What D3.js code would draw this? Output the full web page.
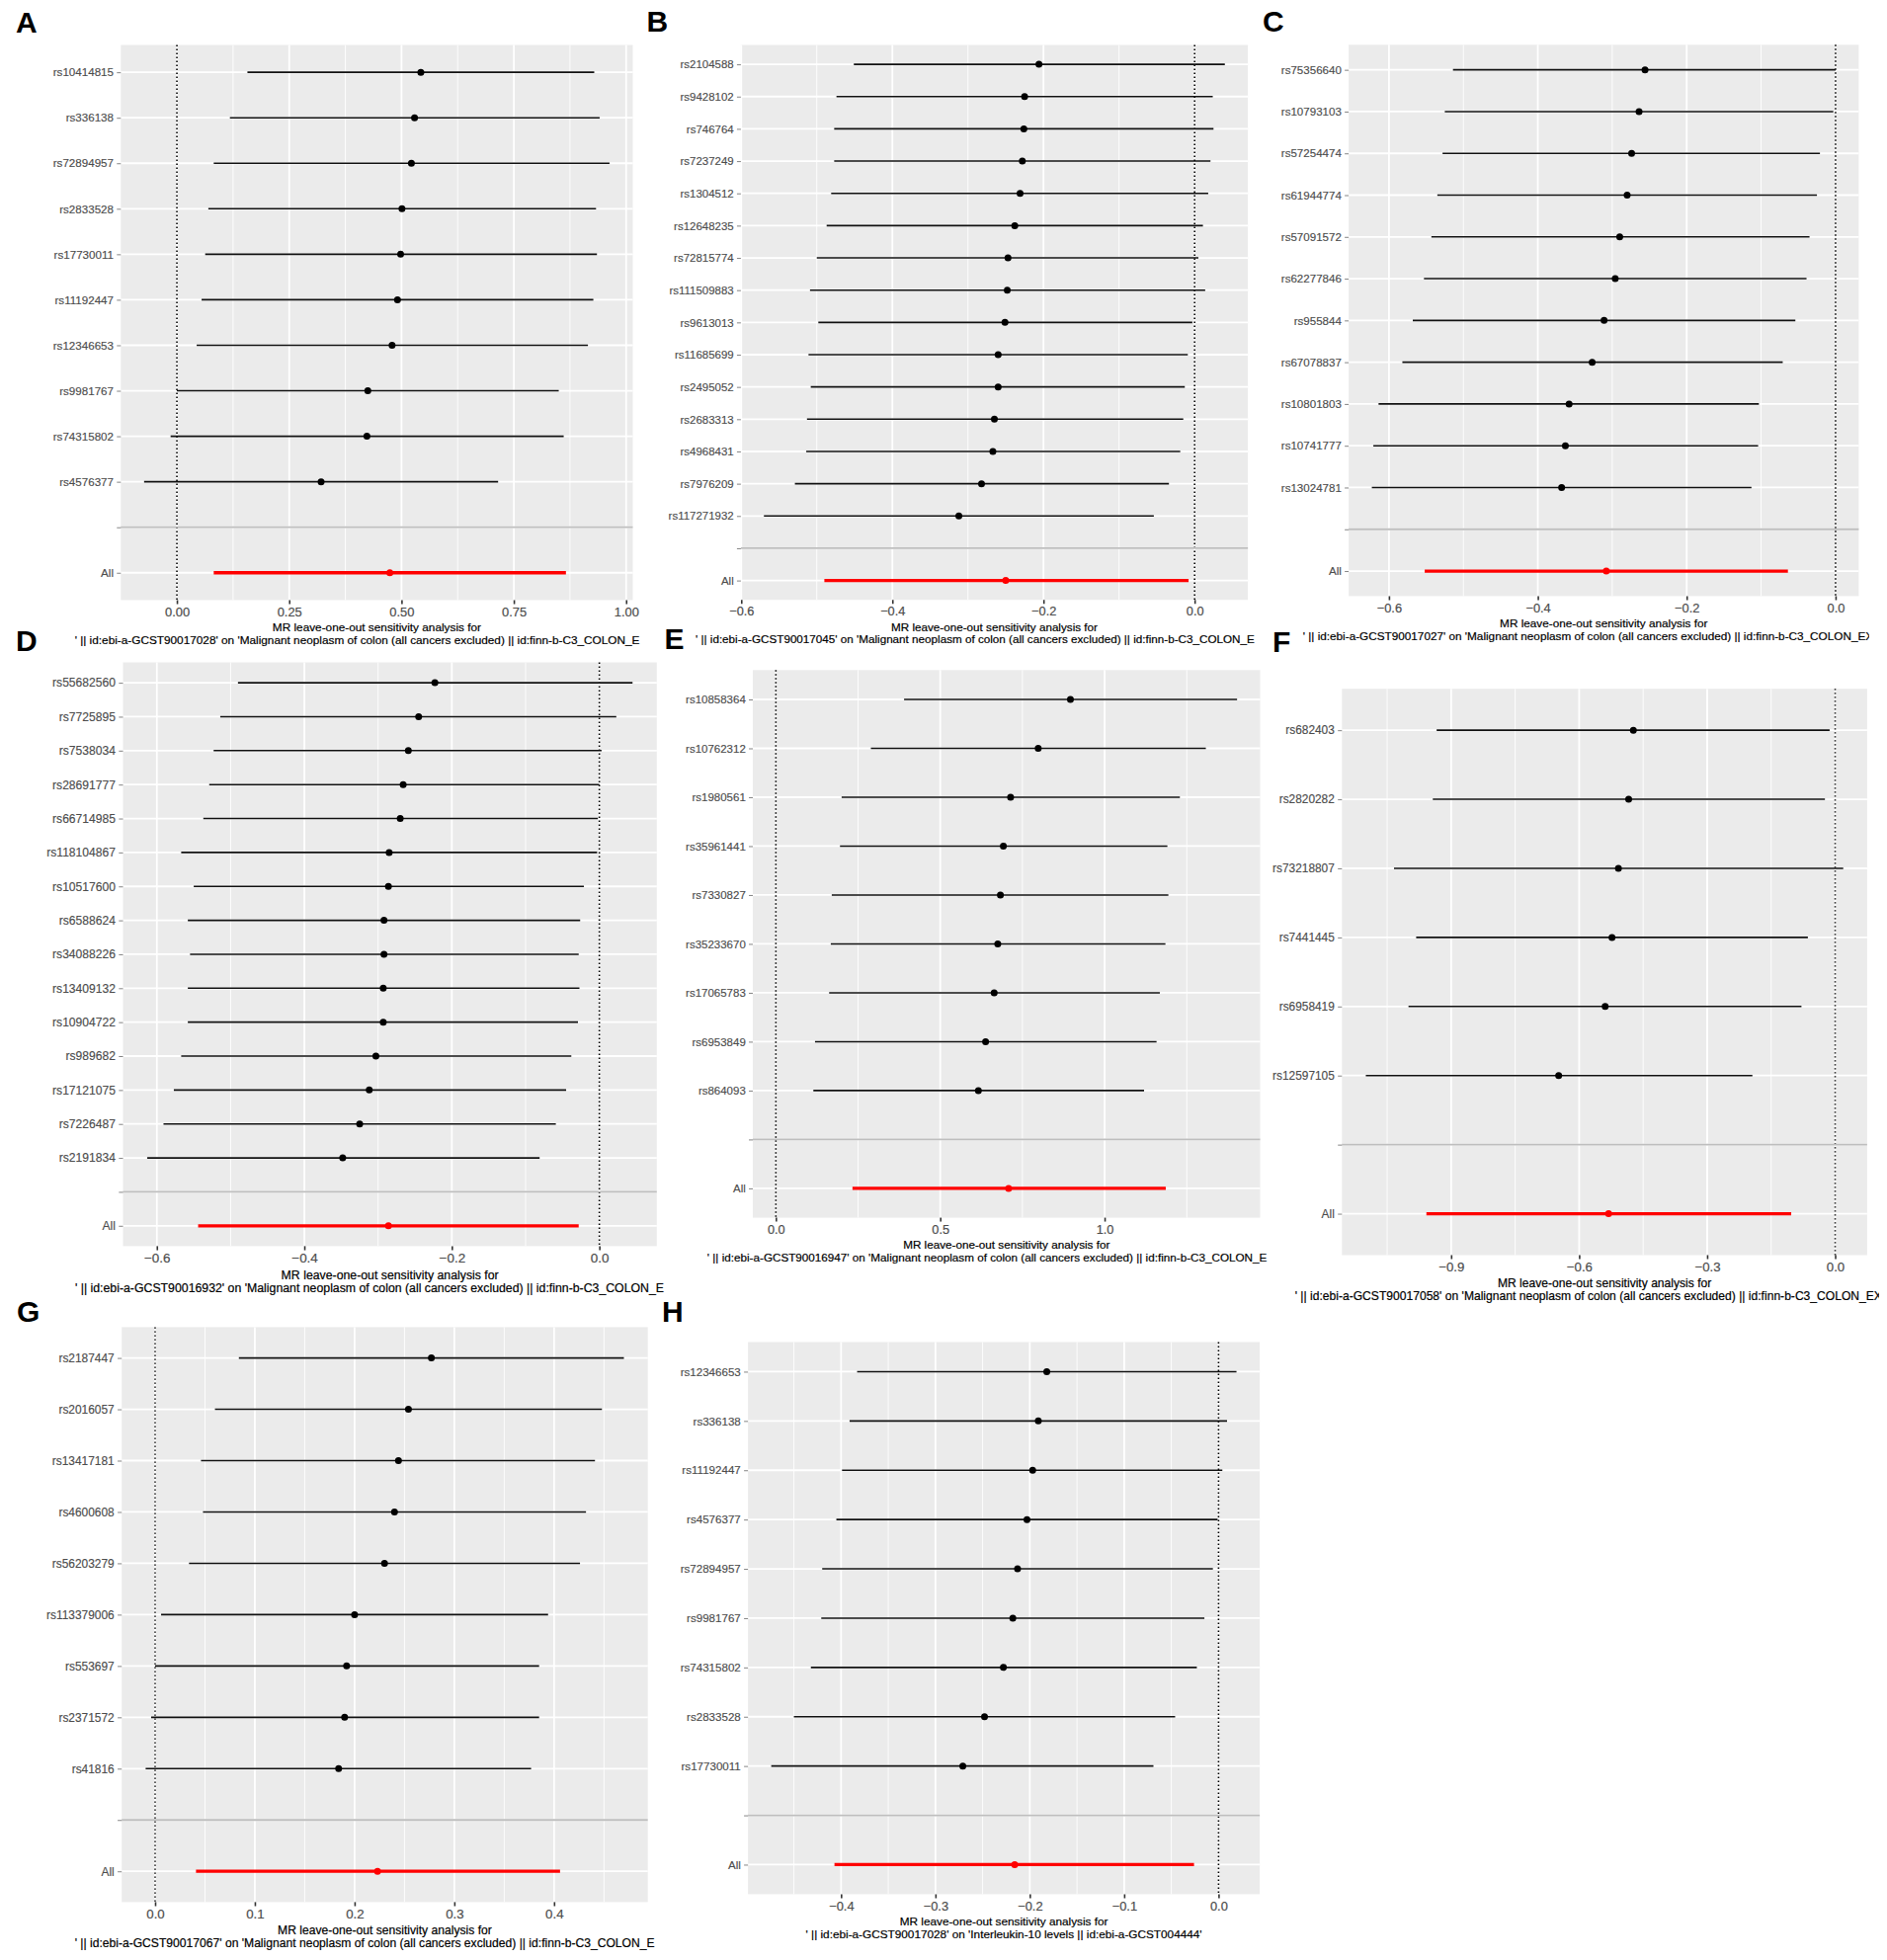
<!DOCTYPE html>
<html>
<head>
<meta charset="utf-8">
<script src="https://cdn.jsdelivr.net/npm/d3@7"></script>
<style>
  body { margin: 0; background: #fff; }
  svg { display: block; font-family: "Liberation Sans", Arial, sans-serif; }
</style>
</head>
<body>
<svg id="fig" width="1910" height="1984"></svg>
<script>
// ---- data (top row first) ----
const titleLine1 = "MR leave-one-out sensitivity analysis for";

// Panel A
const snpsA = ["rs10414815", "rs336138", "rs72894957", "rs2833528", "rs17730011", "rs11192447", "rs12346653", "rs9981767", "rs74315802", "rs4576377"];
const estA = [0.543, 0.529, 0.522, 0.501, 0.498, 0.491, 0.479, 0.425, 0.423, 0.321];
const loA = [0.157, 0.118, 0.082, 0.070, 0.063, 0.055, 0.044, 0.000, -0.014, -0.073];
const hiA = [0.929, 0.941, 0.963, 0.933, 0.935, 0.927, 0.915, 0.850, 0.861, 0.715];
const allA = [0.082, 0.474, 0.866];   // lo, estimate, hi
const ticksA = [0, 0.25, 0.5, 0.75, 1.0];
const tickLabelsA = ["0.00", "0.25", "0.50", "0.75", "1.00"];
const titleA = "' || id:ebi-a-GCST90017028' on 'Malignant neoplasm of colon (all cancers excluded) || id:finn-b-C3_COLON_EXALLC'";

// Panel B
const snpsB = ["rs2104588", "rs9428102", "rs746764", "rs7237249", "rs1304512", "rs12648235", "rs72815774", "rs111509883", "rs9613013", "rs11685699", "rs2495052", "rs2683313", "rs4968431", "rs7976209", "rs117271932"];
const estB = [-0.206, -0.225, -0.226, -0.228, -0.231, -0.238, -0.247, -0.248, -0.251, -0.260, -0.260, -0.265, -0.267, -0.282, -0.312];
const loB = [-0.451, -0.474, -0.477, -0.477, -0.481, -0.487, -0.500, -0.509, -0.498, -0.511, -0.508, -0.513, -0.514, -0.529, -0.570];
const hiB = [0.040, 0.024, 0.025, 0.021, 0.018, 0.011, 0.005, 0.014, -0.003, -0.009, -0.013, -0.015, -0.019, -0.034, -0.054];
const allB = [-0.490, -0.250, -0.008];
const ticksB = [-0.6, -0.4, -0.2, 0.0];
const tickLabelsB = ["\u22120.6", "\u22120.4", "\u22120.2", "0.0"];
const titleB = "' || id:ebi-a-GCST90017045' on 'Malignant neoplasm of colon (all cancers excluded) || id:finn-b-C3_COLON_EXALLC'";

// Panel C
const snpsC = ["rs75356640", "rs10793103", "rs57254474", "rs61944774", "rs57091572", "rs62277846", "rs955844", "rs67078837", "rs10801803", "rs10741777", "rs13024781"];
const estC = [-0.256, -0.264, -0.274, -0.280, -0.290, -0.296, -0.311, -0.327, -0.358, -0.363, -0.368];
const loC = [-0.514, -0.525, -0.528, -0.535, -0.543, -0.553, -0.568, -0.582, -0.614, -0.621, -0.623];
const hiC = [0.000, -0.003, -0.021, -0.025, -0.035, -0.039, -0.054, -0.071, -0.103, -0.104, -0.113];
const allC = [-0.552, -0.308, -0.064];
const ticksC = [-0.6, -0.4, -0.2, 0.0];
const tickLabelsC = ["\u22120.6", "\u22120.4", "\u22120.2", "0.0"];
const titleC = "' || id:ebi-a-GCST90017027' on 'Malignant neoplasm of colon (all cancers excluded) || id:finn-b-C3_COLON_EXALLC'";

// Panel D
const snpsD = ["rs55682560", "rs7725895", "rs7538034", "rs28691777", "rs66714985", "rs118104867", "rs10517600", "rs6588624", "rs34088226", "rs13409132", "rs10904722", "rs989682", "rs17121075", "rs7226487", "rs2191834"];
const estD = [-0.223, -0.245, -0.259, -0.266, -0.270, -0.285, -0.286, -0.292, -0.292, -0.293, -0.293, -0.303, -0.312, -0.325, -0.348];
const loD = [-0.490, -0.514, -0.523, -0.529, -0.537, -0.567, -0.550, -0.558, -0.555, -0.558, -0.558, -0.567, -0.577, -0.591, -0.613];
const hiD = [0.045, 0.023, 0.003, 0.000, -0.002, -0.003, -0.021, -0.026, -0.028, -0.027, -0.029, -0.038, -0.045, -0.059, -0.081];
const allD = [-0.544, -0.286, -0.028];
const ticksD = [-0.6, -0.4, -0.2, 0.0];
const tickLabelsD = ["\u22120.6", "\u22120.4", "\u22120.2", "0.0"];
const titleD = "' || id:ebi-a-GCST90016932' on 'Malignant neoplasm of colon (all cancers excluded) || id:finn-b-C3_COLON_EXALLC'";

// Panel E
const snpsE = ["rs10858364", "rs10762312", "rs1980561", "rs35961441", "rs7330827", "rs35233670", "rs17065783", "rs6953849", "rs864093"];
const estE = [0.896, 0.798, 0.714, 0.692, 0.683, 0.675, 0.664, 0.638, 0.616];
const loE = [0.390, 0.289, 0.200, 0.195, 0.170, 0.167, 0.162, 0.119, 0.114];
const hiE = [1.403, 1.308, 1.229, 1.191, 1.194, 1.185, 1.168, 1.158, 1.120];
const allE = [0.233, 0.708, 1.186];
const ticksE = [0, 0.5, 1.0];
const tickLabelsE = ["0.0", "0.5", "1.0"];
const titleE = "' || id:ebi-a-GCST90016947' on 'Malignant neoplasm of colon (all cancers excluded) || id:finn-b-C3_COLON_EXALLC'";

// Panel F
const snpsF = ["rs682403", "rs2820282", "rs73218807", "rs7441445", "rs6958419", "rs12597105"];
const estF = [-0.473, -0.484, -0.508, -0.523, -0.539, -0.648];
const loF = [-0.934, -0.943, -1.034, -0.982, -1.000, -1.100];
const hiF = [-0.013, -0.024, 0.019, -0.064, -0.079, -0.194];
const allF = [-0.958, -0.531, -0.103];
const ticksF = [-0.9, -0.6, -0.3, 0.0];
const tickLabelsF = ["\u22120.9", "\u22120.6", "\u22120.3", "0.0"];
const titleF = "' || id:ebi-a-GCST90017058' on 'Malignant neoplasm of colon (all cancers excluded) || id:finn-b-C3_COLON_EXALLC'";

// Panel G
const snpsG = ["rs2187447", "rs2016057", "rs13417181", "rs4600608", "rs56203279", "rs113379006", "rs553697", "rs2371572", "rs41816"];
const estG = [0.277, 0.254, 0.244, 0.240, 0.230, 0.200, 0.192, 0.190, 0.184];
const loG = [0.084, 0.060, 0.046, 0.048, 0.034, 0.006, 0.000, -0.004, -0.0095];
const hiG = [0.470, 0.448, 0.441, 0.432, 0.426, 0.394, 0.385, 0.385, 0.377];
const allG = [0.041, 0.223, 0.406];
const ticksG = [0, 0.1, 0.2, 0.3, 0.4];
const tickLabelsG = ["0.0", "0.1", "0.2", "0.3", "0.4"];
const titleG = "' || id:ebi-a-GCST90017067' on 'Malignant neoplasm of colon (all cancers excluded) || id:finn-b-C3_COLON_EXALLC'";

// Panel H
const snpsH = ["rs12346653", "rs336138", "rs11192447", "rs4576377", "rs72894957", "rs9981767", "rs74315802", "rs2833528", "rs17730011"];
const estH = [-0.182, -0.191, -0.197, -0.203, -0.213, -0.218, -0.228, -0.248, -0.271];
const loH = [-0.383, -0.391, -0.399, -0.405, -0.420, -0.421, -0.432, -0.450, -0.474];
const hiH = [0.019, 0.009, 0.004, -0.001, -0.006, -0.015, -0.023, -0.046, -0.069];
const allH = [-0.407, -0.216, -0.026];
const ticksH = [-0.4, -0.3, -0.2, -0.1, 0.0];
const tickLabelsH = ["\u22120.4", "\u22120.3", "\u22120.2", "\u22120.1", "0.0"];
const titleH = "' || id:ebi-a-GCST90017028' on 'Interleukin-10 levels || id:ebi-a-GCST004444'";

// ---- layout of the composite: panel box in page pixels, visible x range of each pasted sub-figure,
//      and where its title text gets cut ----
const layout = [
  { key: "A", left: 122.3, right: 640.5, top: 45.5, bottom: 607.4, clip: [0, 649], cut: 649 },
  { key: "B", left: 749.9, right: 1263.1, top: 45.5, bottom: 607.2, clip: [649, 1273], cut: 1273 },
  { key: "C", left: 1365.1, right: 1881.4, top: 45.3, bottom: 603.4, clip: [1273, 1892], cut: 1898 },
  { key: "D", left: 124.5, right: 664.8, top: 670.5, bottom: 1261.4, clip: [0, 674], cut: 674 },
  { key: "E", left: 762, right: 1275.5, top: 678.3, bottom: 1232.6, clip: [674, 1286], cut: 1286 },
  { key: "F", left: 1358.3, right: 1889.9, top: 697.2, bottom: 1270.5, clip: [1286, 1902], cut: 1906 },
  { key: "G", left: 123.2, right: 655.7, top: 1343.4, bottom: 1925.4, clip: [0, 666], cut: 666 },
  { key: "H", left: 757.1, right: 1275.1, top: 1358.5, bottom: 1917.4, clip: [666, 1290], cut: 1290 }
];
// panel letters: key, x, baseline
const letters = [
  ["A", 16, 32.5], ["B", 654.5, 31.5], ["C", 1278, 32],
  ["D", 16, 659], ["E", 672.5, 657], ["F", 1288, 659.5],
  ["G", 17, 1338], ["H", 670, 1337.5]
];

const panels = {
  A: [snpsA, estA, loA, hiA, allA, ticksA, tickLabelsA, titleA],
  B: [snpsB, estB, loB, hiB, allB, ticksB, tickLabelsB, titleB],
  C: [snpsC, estC, loC, hiC, allC, ticksC, tickLabelsC, titleC],
  D: [snpsD, estD, loD, hiD, allD, ticksD, tickLabelsD, titleD],
  E: [snpsE, estE, loE, hiE, allE, ticksE, tickLabelsE, titleE],
  F: [snpsF, estF, loF, hiF, allF, ticksF, tickLabelsF, titleF],
  G: [snpsG, estG, loG, hiG, allG, ticksG, tickLabelsG, titleG],
  H: [snpsH, estH, loH, hiH, allH, ticksH, tickLabelsH, titleH]
};

const svg = d3.select("#fig");
const defs = svg.append("defs");

// sizes (ggplot theme_grey at the scale of panel A; other sub-figures were pasted a bit larger/smaller)
const baseWidth = 518.2;
const majorW = 1.8, minorW = 0.9;
const textGrey = "#4D4D4D";

// centred title line that is cut where the sub-figure ends (like the pasted composite)
function clippedTitle(g, cx, y, rightLimit, size, str) {
    const t = g.append("text")
        .attr("y", y)
        .attr("font-size", size)
        .attr("fill", "#000")
        .attr("stroke", "#000")
        .attr("stroke-width", 0.2)
        .text(str);
    const full = t.node().getComputedTextLength();
    const x0 = cx - full / 2;
    t.attr("x", x0);
    let s = str;
    while (s.length && x0 + t.node().getComputedTextLength() > rightLimit) {
        s = s.slice(0, -1);
        t.text(s);
    }
}

function drawPanel(p, snps, est, lo, hi, all, ticks, tickLabels, title) {
    const k = (p.right - p.left) / baseWidth;   // scale of this pasted sub-figure

    const clipId = "clip" + p.key;
    defs.append("clipPath").attr("id", clipId)
        .append("rect")
        .attr("x", p.clip[0])
        .attr("y", p.top - 40)
        .attr("width", p.clip[1] - p.clip[0])
        .attr("height", p.bottom - p.top + 100);

    const g = svg.append("g").attr("clip-path", `url(#${clipId})`);

    // x scale with ggplot's 5% expansion (the 0 line is part of the range)
    const xmin = d3.min(lo.concat([all[0], 0]));
    const xmax = d3.max(hi.concat([all[2], 0]));
    const pad = (xmax - xmin) * 0.05;
    const x = d3.scaleLinear().domain([xmin - pad, xmax + pad]).range([p.left, p.right]);

    // discrete y: SNPs, blank row, All (0.6 step padding like ggplot)
    const levels = snps.concat(["", "All"]);
    const y = d3.scalePoint().domain(levels).range([p.top, p.bottom]).padding(0.6);

    // panel background
    g.append("rect")
        .attr("x", p.left).attr("y", p.top)
        .attr("width", p.right - p.left).attr("height", p.bottom - p.top)
        .attr("fill", "#EBEBEB");

    // minor x grid (midpoints of the breaks)
    const step = ticks[1] - ticks[0];
    const minor = [ticks[0] - step / 2].concat(ticks.map(t => t + step / 2))
        .filter(v => v > x.domain()[0] && v < x.domain()[1]);
    g.append("g").selectAll("line").data(minor).join("line")
        .attr("x1", d => x(d)).attr("x2", d => x(d))
        .attr("y1", p.top).attr("y2", p.bottom)
        .attr("stroke", "#fff").attr("stroke-width", minorW);

    // major x grid
    g.append("g").selectAll("line").data(ticks).join("line")
        .attr("x1", d => x(d)).attr("x2", d => x(d))
        .attr("y1", p.top).attr("y2", p.bottom)
        .attr("stroke", "#fff").attr("stroke-width", majorW);

    // major y grid
    g.append("g").selectAll("line").data(levels).join("line")
        .attr("x1", p.left).attr("x2", p.right)
        .attr("y1", d => y(d)).attr("y2", d => y(d))
        .attr("stroke", "#fff").attr("stroke-width", majorW);

    // dotted zero line
    g.append("line")
        .attr("x1", x(0)).attr("x2", x(0))
        .attr("y1", p.top).attr("y2", p.bottom)
        .attr("stroke", "#000").attr("stroke-width", 1.6)
        .attr("stroke-dasharray", "1.4,2.6");

    // leave-one-out intervals
    const rows = snps.map((s, i) => ({ snp: s, b: est[i], lo: lo[i], hi: hi[i] }));
    g.append("g").selectAll("line").data(rows).join("line")
        .attr("x1", d => x(d.lo)).attr("x2", d => x(d.hi))
        .attr("y1", d => y(d.snp)).attr("y2", d => y(d.snp))
        .attr("stroke", "#111").attr("stroke-width", 1.6);
    g.append("g").selectAll("circle").data(rows).join("circle")
        .attr("cx", d => x(d.b)).attr("cy", d => y(d.snp))
        .attr("r", 3.5).attr("fill", "#000");

    // combined estimate
    g.append("line")
        .attr("x1", x(all[0])).attr("x2", x(all[2]))
        .attr("y1", y("All")).attr("y2", y("All"))
        .attr("stroke", "#FF0000").attr("stroke-width", 3.3);
    g.append("circle")
        .attr("cx", x(all[1])).attr("cy", y("All"))
        .attr("r", 3.5).attr("fill", "#FF0000");

    // grey separator at the blank row
    g.append("line")
        .attr("x1", p.left).attr("x2", p.right)
        .attr("y1", y("")).attr("y2", y(""))
        .attr("stroke", "#BEBEBE").attr("stroke-width", 1.8);

    // x axis
    const xAxis = g.append("g")
        .attr("transform", `translate(0,${p.bottom})`)
        .call(d3.axisBottom(x)
            .tickValues(ticks)
            .tickFormat((d, i) => tickLabels[i])
            .tickSize(4 * k)
            .tickPadding(3.2 * k));
    xAxis.select(".domain").remove();
    xAxis.selectAll(".tick line").attr("stroke", "#333").attr("stroke-width", 1.6);
    xAxis.selectAll(".tick text")
        .attr("fill", textGrey)
        .attr("stroke", textGrey)
        .attr("stroke-width", 0.2)
        .attr("font-size", 12.9 * k)
        .attr("font-family", "'Liberation Sans', Arial, sans-serif");

    // y axis
    const yAxis = g.append("g")
        .attr("transform", `translate(${p.left},0)`)
        .call(d3.axisLeft(y).tickSize(4 * k).tickPadding(3.3 * k));
    yAxis.select(".domain").remove();
    yAxis.selectAll(".tick line").attr("stroke", "#333").attr("stroke-width", 0.6);
    yAxis.selectAll(".tick text")
        .attr("fill", textGrey)
        .attr("stroke", textGrey)
        .attr("stroke-width", 0.15)
        .attr("font-size", 11.6 * k)
        .attr("font-family", "'Liberation Sans', Arial, sans-serif");

    // x title, two lines centred on the panel
    const cx = (p.left + p.right) / 2;
    clippedTitle(g, cx, p.bottom + 32 * k, p.cut, 11.8 * k, titleLine1);
    clippedTitle(g, cx, p.bottom + 44.4 * k, p.cut, 11.8 * k, title);
}

layout.forEach(p => drawPanel(p, ...panels[p.key]));

// panel letters
svg.append("g").selectAll("text").data(letters).join("text")
    .attr("x", d => d[1])
    .attr("y", d => d[2])
    .attr("font-size", 30)
    .attr("font-weight", "bold")
    .attr("fill", "#000")
    .text(d => d[0]);
</script>
</body>
</html>
